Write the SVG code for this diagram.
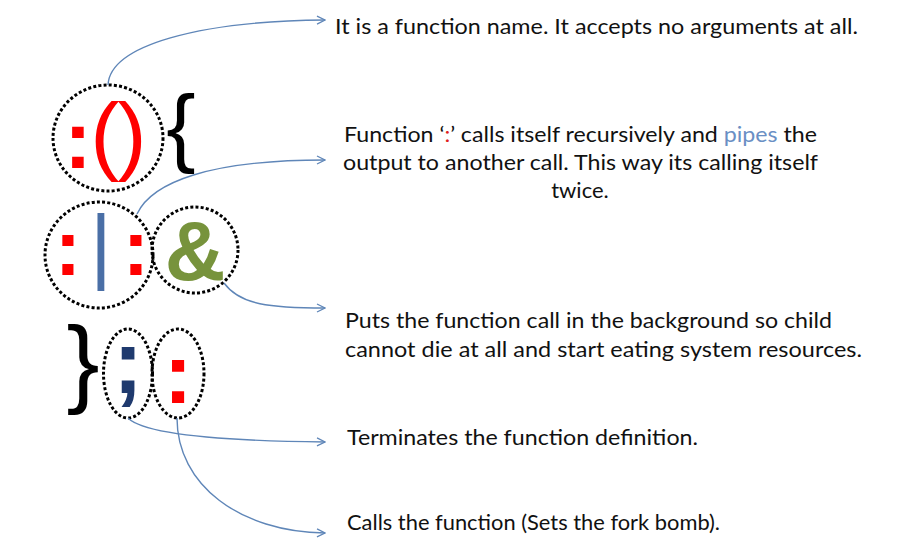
<svg xmlns="http://www.w3.org/2000/svg" width="900" height="552" viewBox="0 0 900 552">
<style>
.ring{fill:none;stroke:#000;stroke-width:3;stroke-dasharray:3 2.2}
.sym{font-family:"Liberation Sans",Arial,sans-serif;text-anchor:middle}
.b{font-weight:bold}
.red{fill:#ff0000}
.lbl{font-family:Lato,"Open Sans",sans-serif;font-size:22px;fill:#111}
.conn path{fill:none;stroke:#5f86b8;stroke-width:1.4}
</style>
<defs>
<marker id="arr" viewBox="0 0 10 10" refX="9" refY="5" markerWidth="10" markerHeight="10" markerUnits="userSpaceOnUse" orient="auto">
<path d="M1,1 L9,5 L1,9" fill="none" stroke="#5f86b8" stroke-width="1.3"/>
</marker>
</defs>
<rect width="900" height="552" fill="#fff"/>

<g id="fn-name">
<ellipse class="ring" cx="108" cy="138" rx="55" ry="53"/>
<text class="sym b red" x="78" y="168" font-size="82">:</text>
<text class="sym red" x="105" y="164" font-size="88">(</text>
<text class="sym red" x="132" y="164" font-size="88">)</text>
</g>
<g id="open-brace">
<text class="sym" x="181" y="156" font-size="88">{</text>
</g>
<g id="pipe-call">
<ellipse class="ring" cx="99" cy="255" rx="54" ry="53"/>
<text class="sym b red" x="68" y="275" font-size="79">:</text>
<text class="sym" x="101" y="274" font-size="84" fill="#4a6fa6">|</text>
<text class="sym b red" x="136" y="275" font-size="79">:</text>
</g>
<g id="background">
<ellipse class="ring" cx="195" cy="250" rx="43" ry="43"/>
<text class="sym b" x="195" y="280" font-size="84" fill="#77933c">&amp;</text>
</g>
<g id="close-brace">
<text class="sym" x="83" y="395" font-size="99">}</text>
</g>
<g id="semicolon">
<ellipse class="ring" cx="128" cy="373.5" rx="24.5" ry="44.5"/>
<text class="sym b" x="128" y="393" font-size="90" fill="#1f3a6e">;</text>
</g>
<g id="call">
<ellipse class="ring" cx="178" cy="373.5" rx="26" ry="44.5"/>
<text class="sym b red" x="178" y="403" font-size="86">:</text>
</g>

<g class="conn">
<path d="M108,85 C110,45 200,21 325,20" marker-end="url(#arr)"/>
<path d="M137,214 C152,182 210,160 325,160" marker-end="url(#arr)"/>
<path d="M224,283 C240,305 270,308 325,308" marker-end="url(#arr)"/>
<path d="M128,418 C145,435 230,441 325,442" marker-end="url(#arr)"/>
<path d="M177,418 C177,485 240,532 325,533" marker-end="url(#arr)"/>
</g>

<g id="label-name">
<text class="lbl" x="335" y="34" textLength="523" lengthAdjust="spacingAndGlyphs">It is a function name. It accepts no arguments at all.</text>
</g>
<g id="label-pipe">
<text class="lbl" x="344" y="142" textLength="473" lengthAdjust="spacingAndGlyphs">Function ‘<tspan fill="#e02020">:</tspan>’ calls itself recursively and <tspan fill="#6a8fc4">pipes</tspan> the</text>
<text class="lbl" x="343" y="170" textLength="475" lengthAdjust="spacingAndGlyphs">output to another call. This way its calling itself</text>
<text class="lbl" x="580" y="198" text-anchor="middle">twice.</text>
</g>
<g id="label-bg">
<text class="lbl" x="345" y="328" textLength="487" lengthAdjust="spacingAndGlyphs">Puts the function call in the background so child</text>
<text class="lbl" x="345" y="357" textLength="517" lengthAdjust="spacingAndGlyphs">cannot die at all and start eating system resources.</text>
</g>
<g id="label-term">
<text class="lbl" x="347" y="445" textLength="351" lengthAdjust="spacingAndGlyphs">Terminates the function definition.</text>
</g>
<g id="label-call">
<text class="lbl" x="347" y="530" textLength="373" lengthAdjust="spacingAndGlyphs">Calls the function (Sets the fork bomb).</text>
</g>
</svg>
